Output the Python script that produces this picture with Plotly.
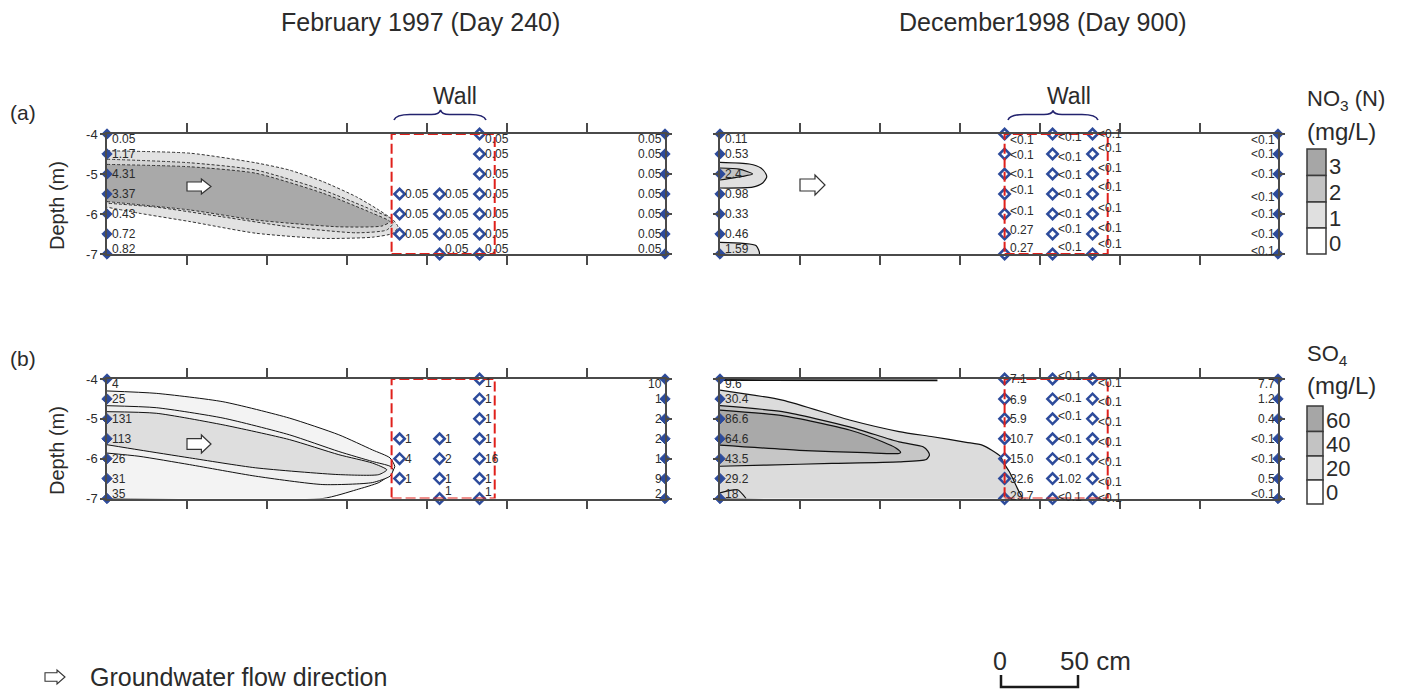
import plotly.graph_objects as go

# page offset of the plot div (browser body margin) and figure size
OX, OY = 8, 8
W, H = 1395, 684

# ------------------------------------------------------------------ data
DEPTHS = [-4, -4.5, -5, -5.5, -6, -6.5, -7]
DEPTHS_W3 = [-5.5, -6, -6.5]
DEPTHS_W4 = [-5.5, -6, -6.5, -7]
DEPTHS_BELOW = [-7.4]

X_RANGE = [0, 349]
X_TICKS = [50, 100, 150, 200, 250, 300]
Y_TICKS = [-4, -5, -6, -7]
Y_TICK_TEXT = ["-4", "-5", "-6", "-7"]
WALL_X = [178, 242.5]
X_UP = 0
X_DOWN = 349
X_WALL_FEB = [183, 208, 233]
X_WALL_DEC = [178, 208, 233]

NO3_FEB_UP = ["0.05", "1.17", "4.31", "3.37", "0.43", "0.72", "0.82"]
NO3_FEB_W1 = ["0.05", "0.05", "0.05"]
NO3_FEB_W2 = ["0.05", "0.05", "0.05", "0.05"]
NO3_FEB_W3 = ["0.05", "0.05", "0.05", "0.05", "0.05", "0.05", "0.05"]
NO3_FEB_DOWN = ["0.05", "0.05", "0.05", "0.05", "0.05", "0.05", "0.05"]

NO3_DEC_UP = ["0.11", "0.53", "2.4", "0.98", "0.33", "0.46", "1.59"]
NO3_DEC_W1 = ["<0.1", "<0.1", "<0.1", "<0.1", "<0.1", "0.27", "0.27"]
NO3_DEC_W2 = ["<0.1", "<0.1", "<0.1", "<0.1", "<0.1", "<0.1", "<0.1"]
NO3_DEC_W3 = ["<0.1", "<0.1", "<0.1", "<0.1", "<0.1", "<0.1", "<0.1"]
NO3_DEC_DOWN = ["<0.1", "<0.1", "<0.1", "<0.1", "<0.1", "<0.1", "<0.1"]

SO4_FEB_UP = ["4", "25", "131", "113", "26", "31", "35"]
SO4_FEB_W1 = ["1", "4", "1"]
SO4_FEB_W2 = ["1", "2", "1", "1"]
SO4_FEB_W3 = ["1", "1", "1", "1", "16", "1", "1"]
SO4_FEB_DOWN = ["10", "1", "2", "2", "1", "9", "2"]

SO4_DEC_UP = ["9.6", "30.4", "86.6", "64.6", "43.5", "29.2", "18"]
SO4_DEC_W1 = ["7.1", "6.9", "5.9", "10.7", "15.0", "32.6", "29.7"]
SO4_DEC_W1_BELOW = ["2.1"]
SO4_DEC_W2 = ["<0.1", "<0.1", "<0.1", "<0.1", "<0.1", "1.02", "<0.1"]
SO4_DEC_W2_BELOW = ["<0.1"]
SO4_DEC_W3 = ["<0.1", "<0.1", "<0.1", "<0.1", "<0.1", "<0.1", "<0.1"]
SO4_DEC_DOWN = ["7.7", "1.2", "0.4", "<0.1", "<0.1", "0.5", "<0.1"]

# plume outlines (x in cm, depth in m)
NO3_FEB_C1_X = [0, 52, 93, 114, 135, 156, 170, 179, 182, 179, 166, 135, 93, 52, 20, 0]
NO3_FEB_C1_Y = [-4.42, -4.48, -4.72, -4.9, -5.19, -5.57, -5.9, -6.15, -6.32, -6.48, -6.58, -6.61, -6.48, -6.19, -5.98, -5.83]
NO3_FEB_C2_X = [0, 52, 93, 135, 166, 177, 179, 175, 156, 114, 72, 31, 0]
NO3_FEB_C2_Y = [-4.63, -4.72, -4.9, -5.4, -5.9, -6.1, -6.23, -6.4, -6.47, -6.32, -6.07, -5.83, -5.73]
NO3_FEB_C3_X = [0, 52, 93, 135, 166, 177, 172, 145, 93, 52, 0]
NO3_FEB_C3_Y = [-4.76, -4.82, -4.98, -5.48, -5.98, -6.19, -6.3, -6.32, -6.15, -5.9, -5.69]

NO3_DEC_C1_X = [0, 18.3, 25.6, 28.75, 29.2, 26.7, 20.4, 0]
NO3_DEC_C1_Y = [-4.71, -4.75, -4.85, -5.0, -5.08, -5.225, -5.33, -5.35]
NO3_DEC_C2_X = [0, 12, 20.4, 14, 0]
NO3_DEC_C2_Y = [-4.85, -4.88, -5.0, -5.06, -5.15]
NO3_DEC_C3_X = [0, 22.5, 24.6, 0]
NO3_DEC_C3_Y = [-6.71, -6.79, -7.0, -7.0]

SO4_FEB_C1_X = [0, 30.8, 72.5, 114, 145, 166, 177, 180, 177, 170, 156, 135, 0]
SO4_FEB_C1_Y = [-4.3, -4.36, -4.57, -4.98, -5.4, -5.78, -5.98, -6.2, -6.4, -6.6, -6.78, -7.0, -7.0]
SO4_FEB_C2_X = [0, 30.8, 72.5, 114, 145, 166, 177, 179, 177, 166, 135, 93, 51.7, 20, 0]
SO4_FEB_C2_Y = [-4.67, -4.72, -4.98, -5.4, -5.82, -6.07, -6.19, -6.28, -6.44, -6.6, -6.65, -6.44, -6.15, -5.94, -5.86]
SO4_FEB_C3_X = [0, 30.8, 72.5, 114, 145, 166, 175, 170, 145, 93, 51.7, 20, 0]
SO4_FEB_C3_Y = [-4.82, -4.86, -5.15, -5.52, -5.9, -6.11, -6.28, -6.4, -6.4, -6.23, -5.98, -5.78, -5.65]

SO4_DEC_C1_X = [0, 39, 81, 112, 133, 154, 164, 170, 175.6, 177, 181, 187, 189, 0]
SO4_DEC_C1_Y = [-4.28, -4.53, -5.03, -5.32, -5.45, -5.59, -5.66, -5.79, -5.95, -6.08, -6.33, -6.83, -7.0, -7.0]
SO4_DEC_C2_X = [0, 39, 81, 112, 127, 130, 131, 129, 112, 70, 29, 0]
SO4_DEC_C2_Y = [-4.67, -4.82, -5.2, -5.58, -5.7, -5.81, -5.91, -6.02, -6.08, -6.12, -6.16, -6.19]
SO4_DEC_C3_X = [0, 39, 81, 102, 110, 113, 112, 91, 49.6, 0]
SO4_DEC_C3_Y = [-4.78, -4.92, -5.28, -5.58, -5.73, -5.84, -5.87, -5.85, -5.79, -5.66]
SO4_DEC_L1_X = [0, 11, 16.3]
SO4_DEC_L1_Y = [-6.86, -6.78, -7.0]
SO4_DEC_L2_X = [0, 136]
SO4_DEC_L2_Y = [-4.025, -4.035]

NO3_LEGEND_LEVELS = ["3", "2", "1", "0"]
SO4_LEGEND_LEVELS = ["60", "40", "20", "0"]

# ------------------------------------------------------------------ style
FONT = "Liberation Sans, Arial, sans-serif"
TXT = "#2b2b2b"
BLUE = "#2d4b9b"
AXC = "#4a4a4a"
RED = "#e0201b"
NAVY = "#23236e"
LEGEND_COLORS = ["#a6a6a6", "#c3c3c3", "#e0e0e0", "#ffffff"]


def fx(px):
    return (px - OX) / W


def fy(py):
    return 1 - (py - OY) / H


fig = go.Figure()

PANELS = {
    "no3_feb": dict(x="x", y="y", xd=(107, 665), yd=(134, 254), labels=True),
    "no3_dec": dict(x="x2", y="y2", xd=(720, 1278), yd=(134, 254), labels=False),
    "so4_feb": dict(x="x3", y="y3", xd=(107, 665), yd=(379, 498.5), labels=True),
    "so4_dec": dict(x="x4", y="y4", xd=(720, 1278), yd=(379, 498.5), labels=False),
}

layout_axes = {}
for key, p in PANELS.items():
    xn = "xaxis" + p["x"][1:]
    yn = "yaxis" + p["y"][1:]
    layout_axes[xn] = dict(
        domain=[fx(p["xd"][0]), fx(p["xd"][1])], range=X_RANGE, anchor=p["y"],
        showgrid=False, zeroline=False, showline=True, linecolor=AXC, linewidth=1.5,
        ticks="outside", mirror="ticks", tickvals=X_TICKS, ticklen=9, tickwidth=1.5,
        tickcolor=AXC, showticklabels=False, fixedrange=True, automargin=False)
    layout_axes[yn] = dict(
        domain=[fy(p["yd"][1]), fy(p["yd"][0])], range=[-7, -4], anchor=p["x"],
        showgrid=False, zeroline=False, showline=True, linecolor=AXC, linewidth=1.5,
        ticks="outside", mirror="ticks", tickvals=Y_TICKS, ticktext=Y_TICK_TEXT,
        ticklen=5, tickwidth=1.5, tickcolor=AXC, showticklabels=p["labels"],
        tickfont=dict(family=FONT, size=13, color=TXT), fixedrange=True, automargin=False)


def poly(panel, xs, ys, fill, line_color="#111", width=1, dash="solid"):
    p = PANELS[panel]
    fig.add_trace(go.Scatter(
        x=xs, y=ys, xaxis=p["x"], yaxis=p["y"], mode="lines",
        fill="toself" if fill else None, fillcolor=fill,
        line=dict(color=line_color, width=width, dash=dash, shape="spline", smoothing=0.6),
        hoverinfo="skip", showlegend=False))


DASH = "3px,2px"
poly("no3_feb", NO3_FEB_C1_X, NO3_FEB_C1_Y, "#e2e2e2", "#333", 1, DASH)
poly("no3_feb", NO3_FEB_C2_X, NO3_FEB_C2_Y, "#d3d3d3", "#333", 1, DASH)
poly("no3_feb", NO3_FEB_C3_X, NO3_FEB_C3_Y, "#a9a9a9", "#333", 1, DASH)

poly("no3_dec", NO3_DEC_C1_X, NO3_DEC_C1_Y, "#e0e0e0", "#111", 1.2)
poly("no3_dec", NO3_DEC_C2_X, NO3_DEC_C2_Y, "#c3c3c3", "#111", 1.2)
poly("no3_dec", NO3_DEC_C3_X, NO3_DEC_C3_Y, "#e0e0e0", "#111", 1.2)

poly("so4_feb", SO4_FEB_C1_X, SO4_FEB_C1_Y, "#f3f3f3", "#111", 1)
poly("so4_feb", SO4_FEB_C2_X, SO4_FEB_C2_Y, "#f0f0f0", "#111", 1)
poly("so4_feb", SO4_FEB_C3_X, SO4_FEB_C3_Y, "#dedede", "#111", 1)

poly("so4_dec", SO4_DEC_C1_X, SO4_DEC_C1_Y, "#dcdcdc", "#111", 1.2)
poly("so4_dec", SO4_DEC_C2_X, SO4_DEC_C2_Y, "#c6c6c6", "#111", 1.2)
poly("so4_dec", SO4_DEC_C3_X, SO4_DEC_C3_Y, "#a9a9a9", "#111", 1.2)
poly("so4_dec", SO4_DEC_L1_X, SO4_DEC_L1_Y, None, "#111", 1.2)
poly("so4_dec", SO4_DEC_L2_X, SO4_DEC_L2_Y, None, "#111", 1.8)

# wall rectangles
for key, p in PANELS.items():
    fig.add_shape(type="rect", xref=p["x"], yref=p["y"], x0=WALL_X[0], x1=WALL_X[1],
                  y0=-7, y1=-4, line=dict(color=RED, width=2, dash="10px,4px"),
                  layer="above")

COLUMNS = {
    "no3_feb": [("up", X_UP, DEPTHS, NO3_FEB_UP), ("w1", X_WALL_FEB[0], DEPTHS_W3, NO3_FEB_W1),
                ("w2", X_WALL_FEB[1], DEPTHS_W4, NO3_FEB_W2), ("w3", X_WALL_FEB[2], DEPTHS, NO3_FEB_W3),
                ("down", X_DOWN, DEPTHS, NO3_FEB_DOWN)],
    "no3_dec": [("up", X_UP, DEPTHS, NO3_DEC_UP), ("w1", X_WALL_DEC[0], DEPTHS, NO3_DEC_W1),
                ("w2", X_WALL_DEC[1], DEPTHS, NO3_DEC_W2), ("w3", X_WALL_DEC[2], DEPTHS, NO3_DEC_W3),
                ("down", X_DOWN, DEPTHS, NO3_DEC_DOWN)],
    "so4_feb": [("up", X_UP, DEPTHS, SO4_FEB_UP), ("w1", X_WALL_FEB[0], DEPTHS_W3, SO4_FEB_W1),
                ("w2", X_WALL_FEB[1], DEPTHS_W4, SO4_FEB_W2), ("w3", X_WALL_FEB[2], DEPTHS, SO4_FEB_W3),
                ("down", X_DOWN, DEPTHS, SO4_FEB_DOWN)],
    "so4_dec": [("up", X_UP, DEPTHS, SO4_DEC_UP), ("w1", X_WALL_DEC[0], DEPTHS, SO4_DEC_W1),
                ("w2", X_WALL_DEC[1], DEPTHS, SO4_DEC_W2), ("w3", X_WALL_DEC[2], DEPTHS, SO4_DEC_W3),
                ("down", X_DOWN, DEPTHS, SO4_DEC_DOWN)],
}
BELOW = {"so4_dec": [(X_WALL_DEC[0], DEPTHS_BELOW, SO4_DEC_W1_BELOW),
                     (X_WALL_DEC[1], DEPTHS_BELOW, SO4_DEC_W2_BELOW)]}

SHIFT_OVERRIDE = {
    ("no3_feb", "w2"): [0, 0, 0, 5],
    ("no3_dec", "w1"): [-6, -1, 0, 4, 3, 4, 6],
    ("no3_dec", "w2"): [-3, -3, -1, 0, 0, 5, 7],
    ("no3_dec", "w3"): [0, 6, 6, 7, 6, 6, 10],
    ("no3_dec", "down"): [-6, 0, 0, -3, 0, 0, 3],
    ("so4_feb", "w2"): [0, 0, 0, 8],
    ("so4_feb", "w3"): [-4, 0, 0, 0, 0, 0, 7],
    ("so4_dec", "w1"): [0, -1, 0, 0, 0, 0, 3],
    ("so4_dec", "w2"): [3, 1, 3, 0, 0, 0, 2],
    ("so4_dec", "w3"): [-4, -3, -3, -3, -3, -3, 1],
}

LABEL_FONT = dict(family=FONT, size=12, color=TXT)

for key, cols in COLUMNS.items():
    p = PANELS[key]
    for name, xv, deps, labs in cols:
        edge = name in ("up", "down")
        fig.add_trace(go.Scatter(
            x=[xv] * len(deps), y=deps, xaxis=p["x"], yaxis=p["y"], mode="markers",
            cliponaxis=False, hoverinfo="skip", showlegend=False,
            marker=dict(symbol="diamond" if edge else "diamond-open", size=8, color=BLUE,
                        line=dict(width=1 if edge else 2.5, color=BLUE))))
        shifts = SHIFT_OVERRIDE.get((key, name))
        for i, (d, t) in enumerate(zip(deps, labs)):
            if shifts is not None:
                s = shifts[i]
            else:
                s = -5 if d == -4 else (5 if d == -7 else 0)
            right = name == "down"
            fig.add_annotation(
                x=xv, y=d, xref=p["x"], yref=p["y"], text=t, showarrow=False,
                xanchor="right" if right else "left", xshift=-1 if right else 3, yshift=s,
                font=LABEL_FONT)

for key, items in BELOW.items():
    p = PANELS[key]
    for xv, deps, labs in items:
        fig.add_trace(go.Scatter(
            x=[xv] * len(deps), y=deps, xaxis=p["x"], yaxis=p["y"], mode="markers+text",
            text=labs, textposition="middle right", textfont=LABEL_FONT,
            cliponaxis=False, hoverinfo="skip", showlegend=False,
            marker=dict(symbol="diamond-open", size=8, color=BLUE, line=dict(width=2.5, color=BLUE))))

# ------------------------------------------------------------------ decorations


def P(x, y):
    return f"{fx(x):.5f},{fy(y):.5f}"


def path_px(points, close=True):
    s = "M " + " L ".join(P(x, y) for x, y in points)
    return s + (" Z" if close else "")


def flow_arrow(x0, y0, x1, y1, lw=1.2):
    w, h = x1 - x0, y1 - y0
    yc = (y0 + y1) / 2
    xh = x0 + 0.6 * w
    bh = 0.3 * h
    pts = [(x0, yc - bh), (xh, yc - bh), (xh, y0), (x1, yc), (xh, y1), (xh, yc + bh), (x0, yc + bh)]
    fig.add_shape(type="path", xref="paper", yref="paper", path=path_px(pts),
                  fillcolor="white", line=dict(color="#333", width=lw), layer="above")


flow_arrow(187, 179, 211, 194)
flow_arrow(800, 175, 825, 195)
flow_arrow(187, 435, 211, 453)
flow_arrow(45, 670, 65, 684, 1.1)


def brace(xl, xr, xs, yb, ys, ye):
    path = (f"M {P(xl, ye)} Q {P(xl + 2, yb)} {P(xl + 16, yb)} L {P(xs - 9, yb)} "
            f"Q {P(xs - 1, yb)} {P(xs, ys)} Q {P(xs + 1, yb)} {P(xs + 9, yb)} "
            f"L {P(xr - 16, yb)} Q {P(xr - 2, yb)} {P(xr, ye)}")
    fig.add_shape(type="path", xref="paper", yref="paper", path=path,
                  line=dict(color=NAVY, width=1.6))


brace(394, 486, 440.5, 114.5, 110, 120)
brace(1008, 1098, 1053, 114.5, 110.5, 120)


def legend_boxes(x0, x1, tops, levels, ytext):
    for i, lev in enumerate(levels):
        fig.add_shape(type="rect", xref="paper", yref="paper", x0=fx(x0), x1=fx(x1),
                      y0=fy(tops[i + 1]), y1=fy(tops[i]), fillcolor=LEGEND_COLORS[i],
                      line=dict(color="#3a3a3a", width=1.5))
        fig.add_annotation(x=fx(x1 + 1), y=fy(ytext[i]), xref="paper", yref="paper", text=lev,
                           showarrow=False, xanchor="left", yanchor="middle",
                           font=dict(family="Liberation Sans Narrow, " + FONT, size=22, color=TXT))


legend_boxes(1307, 1326, [149, 175.5, 202, 228, 254], NO3_LEGEND_LEVELS, [166, 192, 218, 243])
legend_boxes(1307, 1323, [406, 431.5, 456, 480, 504], SO4_LEGEND_LEVELS, [420, 445, 469, 493])

# scale bar
fig.add_shape(type="path", xref="paper", yref="paper",
              path=path_px([(1001, 675), (1001, 687), (1078, 687), (1078, 675)], close=False),
              line=dict(color="#1a1a1a", width=2.5))


def text(x, y, s, size=22, anchor="center", angle=0):
    fig.add_annotation(x=fx(x), y=fy(y), xref="paper", yref="paper", text=s, showarrow=False,
                       xanchor=anchor, yanchor="middle", textangle=angle,
                       font=dict(family=FONT, size=size, color=TXT))


text(420, 22, "February 1997 (Day 240)", 25)
text(1043, 22, "December1998 (Day 900)", 25)
text(455, 96, "Wall", 23)
text(1069, 96, "Wall", 23)
text(8, 112, "(a)", 21, "left")
text(8, 358, "(b)", 21, "left")
text(57, 206, "Depth (m)", 20, angle=-90)
text(57, 451, "Depth (m)", 20, angle=-90)
text(1305, 100, "NO<sub>3</sub> (N)", 22, "left")
text(1305, 131, "(mg/L)", 24, "left")
text(1305, 355, "SO<sub>4</sub>", 22, "left")
text(1305, 385, "(mg/L)", 24, "left")
text(88, 677, "Groundwater flow direction", 25, "left")
text(1000, 661, "0", 25)
text(1058, 661, "50 cm", 26, "left")

fig.update_layout(
    template="none",
    width=W, height=H, margin=dict(l=0, r=0, t=0, b=0, pad=0, autoexpand=False),
    paper_bgcolor="white", plot_bgcolor="white", showlegend=False,
    **layout_axes)

fig.write_html("out.html", include_plotlyjs=True)
